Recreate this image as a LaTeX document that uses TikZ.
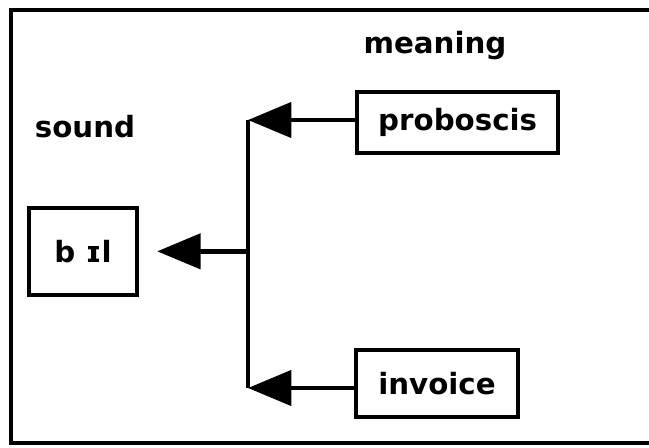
\documentclass[tikz,border=0pt]{standalone}
\usepackage{fontspec}
\setmainfont{DejaVu Sans}
\usetikzlibrary{arrows.meta}

\tikzset{
  word/.style={font=\fontsize{25}{28}\selectfont\bfseries, inner sep=0pt},
  wordbox/.style={word, draw, line width=3.8pt},
  arr/.style={line width=3.8pt, -{Triangle[length=1.3cm,width=1.05cm]}},
}

\begin{document}
\begin{tikzpicture}
  \useasboundingbox (0,0) rectangle (19.47,13.41);
  % frame, open to the right
  \draw[line width=3.8pt] (19.8,13.11) -- (0.33,13.11) -- (0.33,0.12) -- (19.8,0.12);
  \node[word] (meaning) at (13.05,12.05) {meaning};
  \node[word] (sound) at (2.55,9.6) {sound};
  \node[wordbox, minimum width=3.24cm, minimum height=2.61cm] (bill) at (2.49,5.87) {b ɪl};
  \node[wordbox, minimum width=6.03cm, minimum height=1.83cm] (prob) at (13.73,9.74) {proboscis};
  \node[wordbox, minimum width=4.86cm, minimum height=2.01cm] (inv) at (13.11,1.9) {invoice};
  \coordinate (top) at (7.44,9.81);
  \coordinate (bot) at (7.44,1.77);
  \coordinate (mid) at (bot |- bill.east);
  \draw[line width=3.8pt] (top) -- (bot);
  \draw[arr] (prob.west |- top) -- (top);
  \draw[arr] (inv.west |- bot) -- (bot);
  \draw[arr, shorten >=0.54cm] (mid) -- (bill.east);
\end{tikzpicture}
\end{document}
